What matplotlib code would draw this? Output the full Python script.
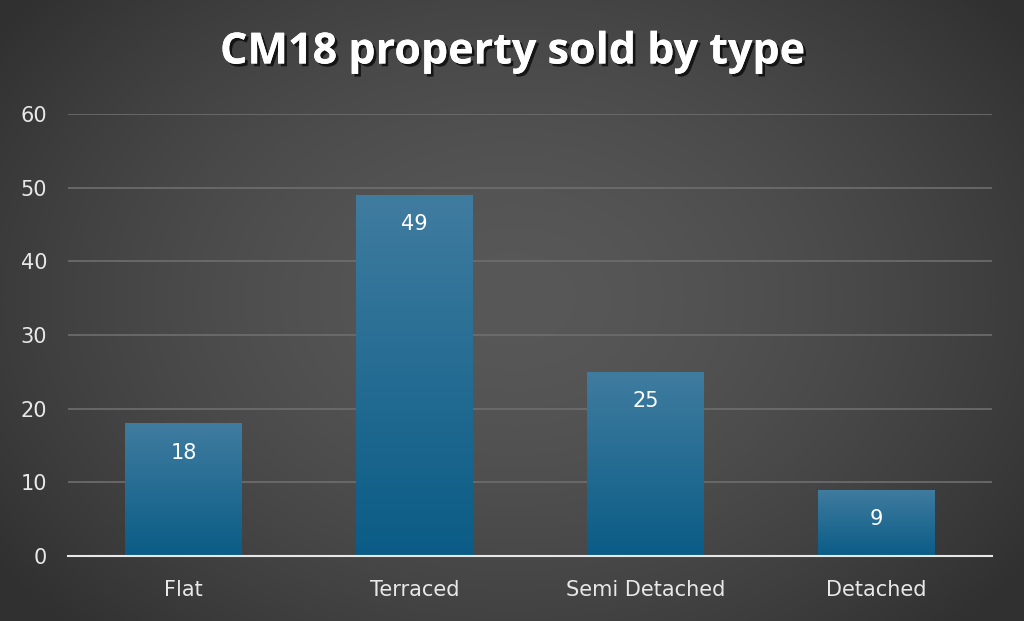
import numpy as np
import matplotlib
matplotlib.use("Agg")
import matplotlib.pyplot as plt
import matplotlib.patheffects as pe

categories = ["Flat", "Terraced", "Semi Detached", "Detached"]
values = [18, 49, 25, 9]
yticks = [0, 10, 20, 30, 40, 50, 60]
title = "CM18 property sold by type"

W, H = 1024, 621
fig = plt.figure(figsize=(W / 100, H / 100), dpi=100)

# background radial gradient
bg = fig.add_axes([0, 0, 1, 1])
yy, xx = np.mgrid[0:H, 0:W]
cx, cy = W * 0.5, H * 0.48
r = np.sqrt(((xx - cx) / (W * 0.62)) ** 2 + ((yy - cy) / (H * 0.75)) ** 2)
r = np.clip(r, 0, 1)
inner = np.array([0x58, 0x58, 0x58]) / 255
outer = np.array([0x30, 0x30, 0x30]) / 255
img = inner[None, None, :] * (1 - r[..., None] ** 1.6) + outer[None, None, :] * (r[..., None] ** 1.6)
bg.imshow(img, aspect="auto", extent=[0, 1, 0, 1], origin="upper")
bg.set_axis_off()

ax = fig.add_axes([68 / W, 1 - 556 / H, (992 - 68) / W, (556 - 114) / H])
ax.patch.set_alpha(0)
x = np.arange(len(categories))
bars = ax.bar(x, values, width=0.506, color="#1a6a95", zorder=2)
ax.set_xlim(-0.5, len(categories) - 0.5)
ax.set_ylim(0, 60)

top_c = np.array([0x40, 0x7c, 0xa0]) / 255
bot_c = np.array([0x0a, 0x5c, 0x86]) / 255
grad = np.linspace(0, 1, 256)[:, None, None]
gimg = top_c[None, None, :] * (1 - grad) + bot_c[None, None, :] * grad
for b in bars:
    bx, by, bw, bh = b.get_x(), b.get_y(), b.get_width(), b.get_height()
    im = ax.imshow(gimg, aspect="auto", extent=[bx, bx + bw, by, by + bh],
                   origin="upper", zorder=3)
    im.set_clip_path(b)

for xi, v in zip(x, values):
    ax.text(xi, v - 4, str(v), ha="center", va="center", color="white",
            fontsize=15, zorder=5)

ax.set_yticks(yticks)
ax.set_yticklabels([str(t) for t in yticks])
ax.set_xticks(x)
ax.set_xticklabels(categories)
ax.tick_params(axis="both", length=0, colors="#e8e8e8", labelsize=15)
ax.tick_params(axis="y", pad=15)
ax.tick_params(axis="x", pad=17)
ax.grid(axis="y", color="#6e6e6e", linewidth=1.2, zorder=0)
ax.set_axisbelow(True)
for s in ["top", "right", "left"]:
    ax.spines[s].set_visible(False)
ax.spines["bottom"].set_color("#e8e8e8")
ax.spines["bottom"].set_linewidth(1.5)
ax.spines["bottom"].set_zorder(4)

t = fig.text(0.5, 1 - 52 / H, title, ha="center", va="center", color="white",
             fontsize=31, fontweight="bold", family="Open Sans")
t.set_path_effects([pe.withSimplePatchShadow(offset=(2, -2), shadow_rgbFace="black", alpha=0.7),
                    pe.Normal()])

fig.savefig("out.png", dpi=100)
